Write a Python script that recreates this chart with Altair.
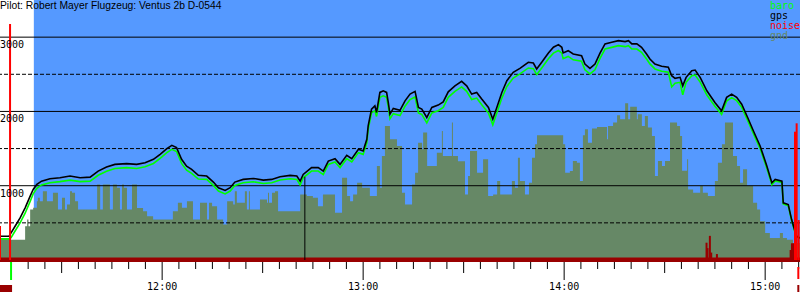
import altair as alt
import pandas as pd

title_text = "Pilot: Robert Mayer Flugzeug: Ventus 2b D-0544"
legend_names = ["baro", "gps", "noise", "gnd"]
legend_colors = ["#00ff00", "#000000", "#ff0000", "#668866"]

# time in minutes after midnight
gps_time = [
    671.6, 674.3, 674.9, 676.1, 677.6, 679.1, 680.6, 681.5, 682.6, 684.0,
    686.5, 689.5, 692.5, 695.5, 698.5, 700.9, 703.4, 705.9, 709.4, 712.4,
    714.9, 717.4, 719.4, 721.4, 722.9, 724.3, 725.8, 727.3, 728.8, 730.8,
    733.3, 735.3, 736.8, 738.8, 740.3, 741.7, 744.2, 747.2, 750.2, 752.7,
    755.2, 758.2, 760.2, 761.2, 762.1, 764.6, 766.6, 768.1, 769.6, 771.6,
    773.1, 775.1, 776.6, 778.6, 780.0, 781.1, 781.5, 782.5, 783.5, 784.0,
    785.0, 786.0, 787.0, 787.5, 788.0, 789.0, 791.0, 792.5, 794.0, 795.5,
    796.5, 797.5, 799.0, 800.5, 802.4, 803.9, 805.4, 807.4, 809.4, 810.9,
    812.4, 813.9, 815.4, 817.4, 818.7, 819.9, 821.4, 822.9, 824.8, 826.8,
    829.3, 830.8, 831.8, 833.3, 835.3, 836.8, 838.3, 839.3, 839.7, 841.2,
    842.7, 845.2, 846.2, 847.7, 849.2, 850.7, 852.2, 854.2, 856.2, 858.2,
    859.2, 860.2, 861.7, 863.1, 864.6, 865.6, 867.1, 869.1, 871.1, 872.1,
    873.1, 874.6, 875.4, 876.4, 878.1, 879.1, 880.6, 882.6, 885.0, 887.0,
    888.5, 890.0, 891.5, 893.0, 895.0, 896.5, 898.5, 900.5, 902.0, 903.0,
    905.0, 905.4, 906.9, 907.9, 908.9, 909.4, 910.4,
]
gps_alt = [
    319, 319, 365, 454, 567, 702, 859, 950, 1017, 1062,
    1094, 1108, 1130, 1108, 1116, 1197, 1251, 1287, 1297, 1287,
    1310, 1355, 1423, 1499, 1544, 1513, 1355, 1264, 1220, 1140,
    1130, 1049, 973, 936, 973, 1049, 1085, 1098, 1075, 1085,
    1121, 1139, 1130, 1062, 1152, 1243, 1243, 1197, 1332, 1364,
    1287, 1409, 1364, 1490, 1467, 1625, 1805, 2031, 2075, 1986,
    2256, 2278, 2256, 2121, 1963, 2040, 2015, 2143, 2233, 2270,
    2053, 2031, 1918, 2053, 2085, 2129, 2264, 2345, 2405, 2345,
    2233, 2256, 2166, 2053, 1895, 2053, 2256, 2413, 2526, 2580,
    2661, 2652, 2571, 2661, 2787, 2864, 2899, 2864, 2787, 2818,
    2773, 2751, 2638, 2580, 2638, 2785, 2909, 2932, 2953, 2940,
    2953, 2909, 2909, 2864, 2773, 2706, 2638, 2607, 2594, 2481,
    2445, 2459, 2345, 2459, 2548, 2557, 2459, 2278, 2121, 2008,
    2189, 2233, 2189, 2098, 1895, 1737, 1535, 1264, 1040, 1085,
    1062, 770, 747, 544, 386, 319, 297,
]
baro_alt = [
    284, 284, 300, 390, 500, 630, 790, 890, 965, 1010,
    1040, 1055, 1075, 1055, 1062, 1140, 1195, 1232, 1243, 1232,
    1255, 1300, 1368, 1445, 1490, 1460, 1300, 1210, 1166, 1090,
    1085, 1004, 928, 890, 928, 1004, 1040, 1053, 1030, 1040,
    1076, 1094, 1085, 1010, 1107, 1198, 1198, 1150, 1287, 1319,
    1242, 1364, 1319, 1445, 1422, 1580, 1760, 1980, 2010, 1932,
    2190, 2210, 2190, 2060, 1900, 1970, 1945, 2070, 2160, 2195,
    1980, 1960, 1845, 1980, 2010, 2055, 2190, 2270, 2330, 2270,
    2160, 2180, 2090, 1978, 1820, 1978, 2180, 2335, 2450, 2505,
    2585, 2575, 2495, 2585, 2710, 2785, 2820, 2785, 2710, 2740,
    2695, 2675, 2560, 2505, 2560, 2715, 2840, 2862, 2885, 2872,
    2885, 2840, 2840, 2796, 2705, 2640, 2572, 2541, 2528, 2330,
    2380, 2392, 2225, 2392, 2482, 2490, 2395, 2220, 2070, 1960,
    2140, 2185, 2145, 2055, 1855, 1700, 1500, 1235, 1015, 1065,
    1045, 755, 730, 530, 375, 310, 290,
]

gnd_time = [
    671.6, 674.6, 679.1, 679.7, 680.1, 680.6, 681.5, 682.6, 682.9, 683.5,
    684.4, 685.6, 687.4, 688.9, 690.1, 691.0, 691.6, 692.5, 693.1, 694.0,
    694.9, 700.6, 701.5, 702.3, 704.4, 705.3, 706.5, 707.4, 708.0, 708.6,
    709.5, 711.0, 712.5, 714.3, 715.5, 717.3, 723.2, 724.7, 725.9, 727.4,
    729.2, 731.3, 733.4, 734.0, 734.9, 736.4, 738.2, 739.4, 741.2, 741.7,
    742.3, 744.7, 745.3, 745.9, 746.2, 749.2, 751.3, 751.6, 751.9, 752.8,
    753.7, 754.6, 761.2, 763.2, 765.0, 766.5, 768.0, 771.6, 773.7, 775.2,
    776.1, 777.0, 778.2, 779.7, 782.0, 784.1, 785.0, 785.6, 786.5, 788.0,
    790.1, 791.6, 792.5, 794.6, 795.5, 796.4, 797.6, 797.9, 799.1, 802.0,
    803.5, 803.8, 806.5, 806.8, 808.3, 810.4, 811.3, 811.9, 814.0, 815.8,
    817.3, 818.8, 820.0, 820.9, 824.4, 825.3, 826.2, 826.8, 828.3, 829.5,
    830.4, 831.3, 831.9, 839.7, 840.3, 841.7, 842.6, 843.8, 844.7, 845.6,
    846.2, 847.1, 848.3, 849.8, 852.8, 853.1, 854.6, 855.8, 856.7, 858.2,
    859.1, 859.7, 861.7, 862.0, 863.2, 864.1, 865.0, 866.2, 867.1, 868.0,
    869.2, 870.1, 871.6, 873.7, 874.6, 875.2, 876.7, 877.0, 878.5, 880.6,
    881.4, 882.9, 885.0, 885.9, 887.1, 888.0, 890.4, 891.6, 892.5, 893.4,
    894.6, 896.4, 897.6, 898.5, 900.0, 901.4, 904.4, 905.3, 906.5, 908.3,
    910.4,
]
gnd_alt = [
    283, 274, 454, 544, 454, 679, 702, 792, 837, 792,
    927, 792, 905, 679, 837, 679, 747, 927, 905, 792,
    679, 1017, 679, 1017, 679, 1017, 972, 679, 1017, 972,
    679, 1017, 700, 657, 589, 544, 657, 770, 702, 792,
    544, 770, 545, 770, 725, 545, 477, 792, 747, 927,
    770, 927, 680, 927, 680, 815, 770, 905, 770, 905,
    927, 657, 882, 860, 837, 725, 882, 635, 1107, 860,
    792, 882, 1040, 972, 860, 1265, 972, 1400, 1805, 1625,
    1535, 905, 747, 1017, 1175, 1580, 1490, 1715, 1265, 1445,
    1738, 1400, 1850, 1400, 1330, 882, 1130, 1467, 1175, 1355,
    860, 882, 1062, 882, 1062, 972, 1377, 1062, 882, 1040,
    1377, 1557, 1679, 1557, 1175, 1197, 1332, 1310, 1062, 1679,
    1760, 1580, 1769, 1792, 1625, 1805, 1850, 1949, 1895, 2111,
    1895, 2062, 1895, 1963, 1805, 1940, 1783, 1670, 1130, 1332,
    1265, 1332, 1850, 1805, 1670, 1200, 1355, 950, 905, 995,
    905, 860, 1062, 1310, 1557, 1850, 1400, 1265, 1040, 1220,
    995, 770, 680, 522, 364, 297, 364, 297, 274, 229,
    229,
]

noise_time = [671.6, 674.6, 882.5, 882.8, 883.5, 883.9, 885.6, 907.6, 908.0, 908.5, 908.9, 909.4, 910.0]
noise_val = [458, 3177, 233, 160, 325, 100, 80, 135, 225, 225, 1727, 1840, 538]

grid_solid = [1000, 2000, 3000]
grid_dash = [500, 1500, 2500]
y_label_vals = [1000, 2000, 3000]
hour_ticks = [720, 780, 840, 900]
hour_labels = ["12:00", "13:00", "14:00", "15:00"]
half_ticks = [690, 750, 810, 870]
five_ticks = [m for m in range(675, 911, 5) if m % 30 != 0]

t_start, t_end = 671.6, 910.4
flight_start = 681.7
event_time, event_alt = 762.6, 1121
takeoff_time = 674.9
landing_time = 909.9

XS = alt.Scale(domain=[t_start, t_end], nice=False, zero=False)
YS = alt.Scale(domain=[0, 3500], nice=False, zero=False)
MONO = "DejaVu Sans Mono"


def X(f):
    return alt.X(f, type="quantitative", scale=XS, axis=None)


def Y(f):
    return alt.Y(f, type="quantitative", scale=YS, axis=None)


gps_df = pd.DataFrame({"t": gps_time, "gps": gps_alt, "baro": baro_alt})
gnd_df = pd.DataFrame({"t": gnd_time, "gnd": gnd_alt})
noise_df = pd.DataFrame({"t": noise_time, "noise": noise_val})

bg = alt.Chart(pd.DataFrame({"s": [flight_start], "e": [t_end], "top": [3500], "bot": [0]})).mark_rect(
    color="#5599ff").encode(x=X("s"), x2="e", y=Y("top"), y2="bot")

gnd = alt.Chart(gnd_df).mark_area(interpolate="step-after", color="#668866").encode(x=X("t"), y=Y("gnd"))

grid1 = alt.Chart(pd.DataFrame({"v": grid_solid})).mark_rule(color="black", strokeWidth=1).encode(y=Y("v"))
grid2 = alt.Chart(pd.DataFrame({"v": grid_dash})).mark_rule(color="black", strokeWidth=1,
                                                           strokeDash=[4, 2]).encode(y=Y("v"))

band = alt.Chart(pd.DataFrame({"s": [t_start], "e": [t_end]})).mark_rect(color="#990000").encode(
    x=X("s"), x2="e", y=alt.value(257.5), y2=alt.value(262))

baro = alt.Chart(gps_df).mark_line(color="#00ff00", strokeWidth=1.6).encode(x=X("t"), y=Y("baro"))
gps = alt.Chart(gps_df).mark_line(color="black", strokeWidth=1.6).encode(x=X("t"), y=Y("gps"))

event = alt.Chart(pd.DataFrame({"t": [event_time], "a": [event_alt], "z": [0]})).mark_rule(
    color="black", strokeWidth=1).encode(x=X("t"), y=Y("a"), y2="z")

noise = alt.Chart(noise_df).mark_rule(strokeWidth=2).encode(
    x=X("t"), y=Y("noise"), y2=alt.datum(0),
    color=alt.condition(alt.datum.noise > 400, alt.value("#ff0000"), alt.value("#990000")))

tick5 = alt.Chart(pd.DataFrame({"t": five_ticks})).mark_rule(color="black").encode(
    x=X("t"), y=alt.value(262), y2=alt.value(269))
tick30 = alt.Chart(pd.DataFrame({"t": half_ticks})).mark_rule(color="black").encode(
    x=X("t"), y=alt.value(262), y2=alt.value(273))
tick60 = alt.Chart(pd.DataFrame({"t": hour_ticks})).mark_rule(color="black").encode(
    x=X("t"), y=alt.value(262), y2=alt.value(280))
xlab = alt.Chart(pd.DataFrame({"t": hour_ticks, "l": hour_labels})).mark_text(
    font=MONO, fontSize=10, align="center", baseline="alphabetic", color="black").encode(
    x=X("t"), y=alt.value(289.5), text="l:N")

ylab = alt.Chart(pd.DataFrame({"v": y_label_vals, "l": [str(v) for v in y_label_vals]})).mark_text(
    font=MONO, fontSize=10, align="left", baseline="alphabetic", dy=11, color="black").encode(
    x=alt.value(0), y=Y("v"), text="l:N")

tko = alt.Chart(pd.DataFrame({"t": [takeoff_time]})).mark_rule(color="#00ff00", strokeWidth=2).encode(
    x=X("t"), y=alt.value(262), y2=alt.value(280))
tko2 = alt.Chart(pd.DataFrame({"s": [t_start], "e": [675.2]})).mark_rect(color="#990000").encode(
    x=X("s"), x2="e", y=alt.value(285), y2=alt.value(292))
lnd = alt.Chart(pd.DataFrame({"t": [landing_time]})).mark_rule(color="#ff0000", strokeWidth=2).encode(
    x=X("t"), y=alt.value(267), y2=alt.value(279))
lnd2 = alt.Chart(pd.DataFrame({"t": [landing_time]})).mark_rule(color="#990000", strokeWidth=2).encode(
    x=X("t"), y=alt.value(285), y2=alt.value(292))

title = alt.Chart(pd.DataFrame({"l": [title_text]})).mark_text(
    font="Liberation Sans", fontSize=10.3, align="left", baseline="alphabetic", color="black").encode(
    x=alt.value(0), y=alt.value(8.5), text="l:N")

legend_layers = []
for i, (name, col) in enumerate(zip(legend_names, legend_colors)):
    legend_layers.append(
        alt.Chart(pd.DataFrame({"l": [name]})).mark_text(
            font=MONO, fontSize=10, align="left", baseline="alphabetic", color=col).encode(
            x=alt.value(770), y=alt.value(9 + 10 * i), text="l:N"))

chart = alt.layer(
    bg, gnd, grid1, grid2, band, baro, gps, event, noise,
    tick5, tick30, tick60, xlab, ylab, tko, tko2, lnd, lnd2, title, *legend_layers
).properties(
    width=800, height=260,
    padding={"left": 0, "top": 0, "right": 0, "bottom": 40},
    autosize=alt.AutoSizeParams(type="none"),
    background="white",
).configure_view(stroke=None)

chart.save("out.html", embed_options={"renderer": "svg", "actions": False})
